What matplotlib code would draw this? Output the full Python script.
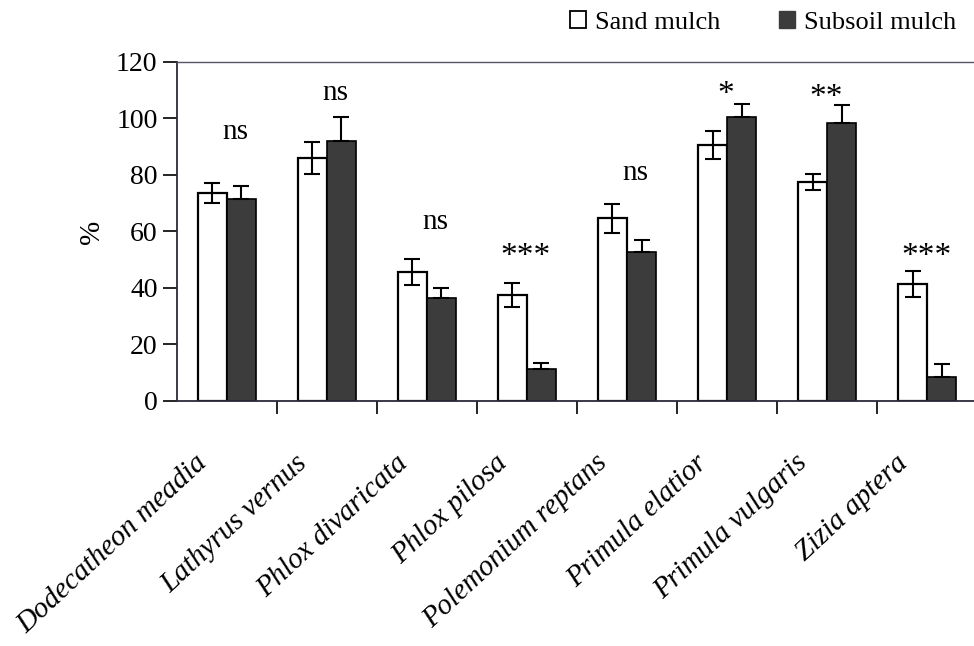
import numpy as np
import matplotlib
matplotlib.use('Agg')
import matplotlib.pyplot as plt
from matplotlib.patches import Patch
import matplotlib.transforms as mtransforms

plt.rcParams['font.family'] = ['Liberation Serif', 'DejaVu Serif']

species = ['Dodecatheon meadia', 'Lathyrus vernus', 'Phlox divaricata', 'Phlox pilosa',
           'Polemonium reptans', 'Primula elatior', 'Primula vulgaris', 'Zizia aptera']
sand = [73.5, 86.0, 45.5, 37.5, 64.6, 90.6, 77.5, 41.3]
sand_err = [3.5, 5.8, 4.6, 4.2, 5.0, 5.1, 2.8, 4.6]
subsoil = [71.6, 92.0, 36.3, 11.4, 52.7, 100.6, 98.3, 8.6]
subsoil_err = [4.3, 8.4, 3.5, 1.9, 4.1, 4.5, 6.5, 4.4]
signif = ['ns', 'ns', 'ns', '***', 'ns', '*', '**', '***']
signif_y = [95, 109, 63.5, 53.7, 80.8, 111, 109.7, 53.7]

fig = plt.figure(figsize=(9.74, 6.46), dpi=100)
ax = fig.add_axes([0.1817, 0.3793, 0.8214, 0.525])

x = np.arange(len(species))
w = 0.29
ax.bar(x - w / 2, sand, w, color='white', edgecolor='black', linewidth=1.6, zorder=2)
ax.bar(x + w / 2, subsoil, w, color='#3c3c3c', edgecolor='black', linewidth=1.2, zorder=2)
ax.errorbar(x - w / 2, sand, yerr=sand_err, fmt='none', ecolor='black',
            elinewidth=1.5, capsize=6, capthick=1.5, zorder=3)
ax.errorbar(x + w / 2, subsoil, yerr=[np.zeros(len(subsoil)), subsoil_err], fmt='none',
            ecolor='black', elinewidth=1.5, capsize=6, capthick=1.5, zorder=3)

for i, (s, yy) in enumerate(zip(signif, signif_y)):
    if s == 'ns':
        ax.text(i + 0.08, yy, s, ha='center', va='center', fontsize=21)
    else:
        ax.text(i - 0.01, yy - 2.5, s, ha='center', va='center', fontsize=24)

ax.set_xlim(-0.5, len(species) - 0.5)
ax.set_ylim(0, 120)
ax.set_yticks(np.arange(0, 121, 20))
ax.tick_params(axis='y', labelsize=20, length=10, width=1.2, direction='out', pad=4)
ax.set_xticks(np.arange(0.5, len(species) - 0.5, 1))
ax.set_xticklabels([])
ax.tick_params(axis='x', length=9, width=1.2, direction='out')
ax.set_ylabel('%', fontsize=21, labelpad=8)

for sp in ['left', 'bottom', 'top']:
    ax.spines[sp].set_color('#2a2a3a')
    ax.spines[sp].set_linewidth(1.3)
ax.spines['top'].set_linewidth(1.0)
ax.spines['top'].set_color('#555566')
ax.spines['right'].set_visible(False)

off = mtransforms.ScaledTranslation(-32 / 100, -49 / 100, fig.dpi_scale_trans)
trans = mtransforms.blended_transform_factory(ax.transData, ax.transAxes) + off
for i, name in enumerate(species):
    ax.text(i, 0, name, transform=trans, rotation=43, rotation_mode='anchor',
            ha='right', va='top', fontsize=21, style='italic')

handles = [Patch(facecolor='white', edgecolor='black', linewidth=1.3),
           Patch(facecolor='#3c3c3c', edgecolor='#3c3c3c')]
fig.legend(handles, ['Sand mulch', 'Subsoil mulch'], ncol=2, frameon=False,
           loc='upper right', bbox_to_anchor=(1.006, 1.02), fontsize=19,
           handlelength=0.6, handleheight=0.6, handletextpad=0.35, columnspacing=2.2)

fig.savefig('out.png', dpi=100)
